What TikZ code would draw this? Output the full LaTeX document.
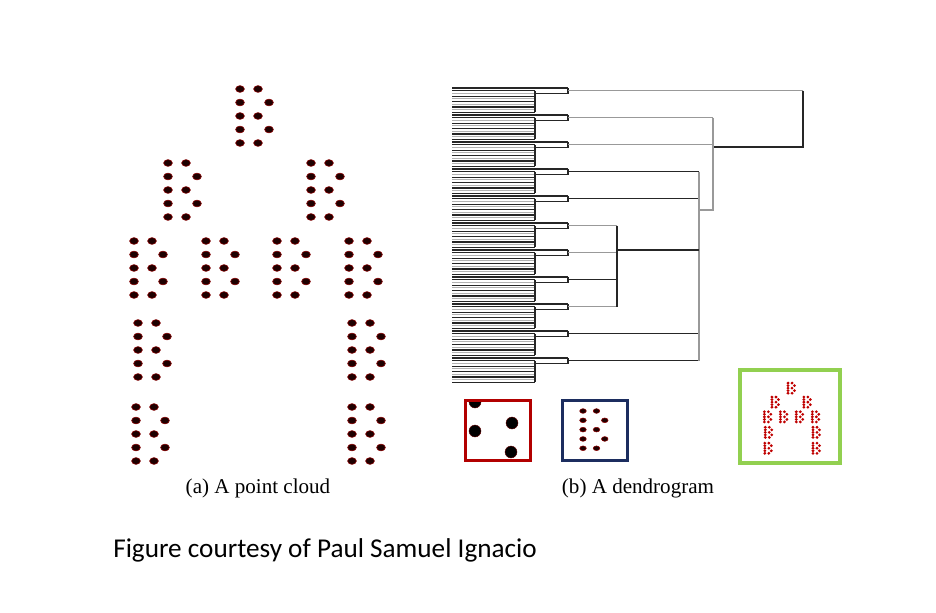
\documentclass[tikz,border=0pt]{standalone}
\usepackage{fontspec}
\setmainfont{Liberation Serif}
\newfontfamily\creditfont{Carlito}
\usepackage{xcolor}
\usepackage{tikz}
\definecolor{framenavy}{RGB}{28,45,95}
\definecolor{framegreen}{RGB}{146,208,80}
\newcommand{\bdots}[3]{%
  \foreach \row/\off in {0/18,1/29,2/18,3/29,4/18}{%
    \path[#3] (#1,#2+13.5*\row) circle;
    \path[#3] (#1+\off,#2+13.5*\row) circle;}}
\newcommand{\cloud}[1]{%
  \foreach \cx/\cy in {240/89,168/163,311/163,134/241,206/241,277/241,349/241,138/323,352/323,136/407,352/407}{\bdots{\cx}{\cy}{#1}}}

\begin{document}
\begin{tikzpicture}[x=0.75pt,y=-0.75pt,
  bigdot/.style={fill=red!12!black,draw=red!55!black,line width=0.4pt,x radius=4.4,y radius=3.4},
  minidot/.style={fill=red!75!black,x radius=7,y radius=8},
  blob/.style={fill=black,draw=red!40!black,line width=0.3pt,radius=6},
  leafdark/.style={black!85,line width=0.9pt},
  leaflight/.style={gray!60,line width=0.9pt},
  treedark/.style={black!85,line width=0.8pt},
  treegray/.style={gray!80,line width=0.8pt}]
  \useasboundingbox (0,0) rectangle (936,612);
  \cloud{bigdot}
  \foreach \k in {0,...,10}{
    \pgfmathsetmacro{\yk}{88+27*\k}
    \foreach \i in {2,4,6,8} \draw[leaflight] (452,\yk+2.7*\i) -- (535,\yk+2.7*\i);
    \foreach \i in {1,3,5,7,9} \draw[leafdark] (452,\yk+2.7*\i) -- (535,\yk+2.7*\i);
    \draw[leafdark] (452,\yk) -- (568,\yk);
    \draw[leafdark] (535,\yk+2.7) -- (535,\yk+24.3);
    \draw[leafdark] (535,\yk+5.4) -- (568,\yk+5.4) -- (568,\yk);
    \coordinate (c\k) at (568,\yk+2.7);
  }
  \draw[treegray] (c0) -- ++(235,0) coordinate (r0);
  \draw[treedark] (r0) -- ++(0,56.3) coordinate (r1) -- ++(-90,0);
  \draw[treegray] (c1) -- ++(145,0) coordinate (m0);
  \draw[treegray] (c2) -- ++(145,0);
  \draw[treegray] (m0) -- ++(0,92.3) coordinate (m1) -- ++(-14,0);
  \draw[treedark] (c3) -- ++(131,0) coordinate (k0);
  \draw[treedark] (c4) -- ++(131,0);
  \draw[treedark] (c9) -- ++(131,0);
  \draw[treedark] (c10) -- ++(131,0) coordinate (k1);
  \draw[treegray] (k0) -- (k1);
  \draw[treegray] (c5) -- ++(49,0) coordinate (j0);
  \draw[treegray] (c6) -- ++(49,0);
  \draw[treedark] (c7) -- ++(49,0);
  \draw[treegray] (c8) -- ++(49,0) coordinate (j1);
  \draw[treedark] (j0) -- (j1);
  \draw[treedark] (617,250) -- (699,250);
  \begin{scope}
    \clip (465,400) rectangle (530,460);
    \foreach \p in {(475,402),(475,431),(512,423),(511,452)} \path[blob] \p circle;
  \end{scope}
  \draw[line width=2.25pt,red!70!black] (465,400) rectangle (530,460);
  \begin{scope}[shift={(583,411)},xscale=0.75,yscale=0.69]
    \bdots{0}{0}{bigdot}
  \end{scope}
  \draw[line width=2.25pt,framenavy] (562,400) rectangle (627,460);
  \begin{scope}[shift={(734.5,366.2)},xscale=0.223,yscale=0.189]
    \cloud{minidot}
  \end{scope}
  \draw[line width=3pt,framegreen] (740,370) rectangle (840,463);
  \node[anchor=base,font=\fontsize{15.8}{19}\selectfont] (capa) at (258,493) {(a) A point cloud};
  \node[anchor=base,font=\fontsize{15.8}{19}\selectfont] (capb) at (638,493) {(b) A dendrogram};
  \node[anchor=base west,inner sep=0pt,font=\creditfont\fontsize{20.4}{24}\selectfont] (credit) at (113,557) {Figure courtesy of Paul Samuel Ignacio};
\end{tikzpicture}
\end{document}
